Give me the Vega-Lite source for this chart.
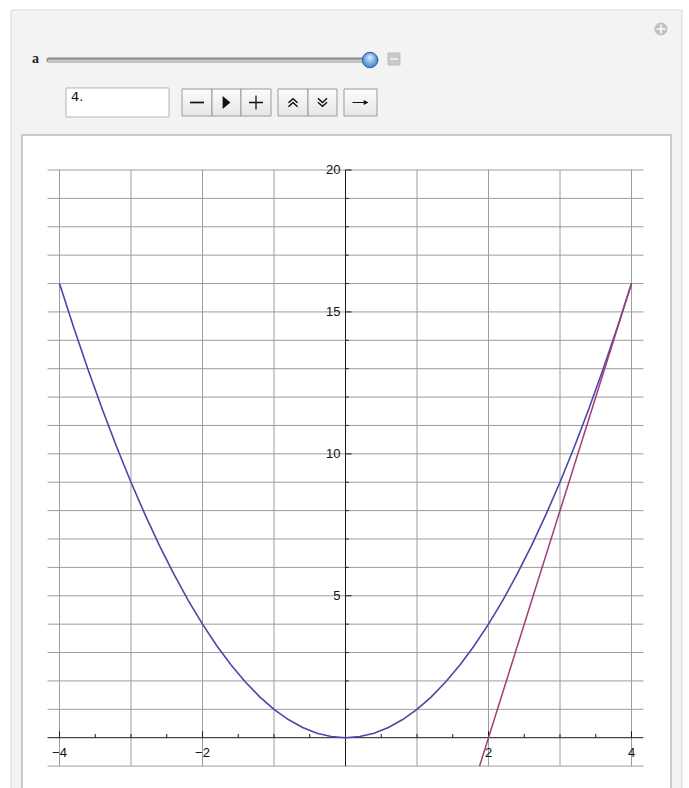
{
  "$schema": "https://vega.github.io/schema/vega-lite/v6.json",
  "width": 689,
  "height": 788,
  "autosize": {"type": "fit", "contains": "padding"},
  "padding": 0,
  "background": "white",
  "config": {
    "view": {"stroke": null},
    "axis": {"disable": true},
    "text": {"font": "Liberation Sans"}
  },
  "layer": [
    {
      "description": "outer control panel",
      "data": {"values": [{}]},
      "mark": {"type": "rect", "fill": "#f3f3f3", "stroke": "#d8d8d8", "strokeWidth": 1, "clip": true},
      "encoding": {
        "x": {"datum": -4.678, "type": "quantitative", "scale": {"domain": [-4.8322, 4.8042], "nice": false, "zero": false}},
        "x2": {"datum": 4.706},
        "y": {"datum": 25.637, "type": "quantitative", "scale": {"domain": [-1.772, 25.989], "nice": false, "zero": false}},
        "y2": {"datum": -2.195}
      }
    },
    {
      "description": "white frame around the plot",
      "data": {"values": [{}]},
      "mark": {"type": "rect", "fill": "white", "stroke": "#cacaca", "strokeWidth": 2, "clip": true},
      "encoding": {
        "x": {"datum": -4.5245}, "x2": {"datum": 4.5524},
        "y": {"datum": 21.233}, "y2": {"datum": -2.195}
      }
    },
    {
      "description": "add-bookmark button, top right",
      "data": {"values": [{}]},
      "mark": {"type": "point", "shape": "circle", "filled": true, "fill": "#c2c2c2", "stroke": null, "size": 170, "opacity": 1},
      "encoding": {"x": {"datum": 4.4126}, "y": {"datum": 24.967}}
    },
    {
      "data": {"values": [{}]},
      "mark": {"type": "point", "filled": true, "fill": "white", "stroke": null, "opacity": 1, "size": 81,
        "shape": "M -1 -0.17 L -0.17 -0.17 L -0.17 -1 L 0.17 -1 L 0.17 -0.17 L 1 -0.17 L 1 0.17 L 0.17 0.17 L 0.17 1 L -0.17 1 L -0.17 0.17 L -1 0.17 Z"},
      "encoding": {"x": {"datum": 4.4126}, "y": {"datum": 24.967}}
    },
    {
      "description": "slider label",
      "data": {"values": [{"name": "a"}]},
      "mark": {"type": "text", "font": "Liberation Serif", "fontSize": 14, "fontWeight": "bold", "align": "left", "baseline": "alphabetic", "color": "#222"},
      "encoding": {"x": {"datum": -4.3846}, "y": {"datum": 23.77}, "text": {"field": "name"}}
    },
    {
      "description": "slider track",
      "data": {"values": [{}]},
      "mark": {"type": "rule", "stroke": "#8a8a8a", "strokeWidth": 5, "strokeCap": "round"},
      "encoding": {"x": {"datum": -4.1469}, "x2": {"datum": 0.4265}, "y": {"datum": 23.875}}
    },
    {
      "data": {"values": [{}]},
      "mark": {"type": "rule", "stroke": "#c6c6c6", "strokeWidth": 2.5, "strokeCap": "round"},
      "encoding": {"x": {"datum": -4.1469}, "x2": {"datum": 0.4265}, "y": {"datum": 23.85}}
    },
    {
      "description": "slider thumb at a = 4",
      "data": {"values": [{}]},
      "mark": {"type": "point", "shape": "circle", "filled": true, "opacity": 1, "size": 240, "stroke": "#2f5f9e", "strokeWidth": 1,
        "fill": {"gradient": "radial", "x1": 0.5, "y1": 0.3, "r1": 0, "x2": 0.5, "y2": 0.5, "r2": 0.6,
          "stops": [{"offset": 0, "color": "#e4f0ff"}, {"offset": 0.5, "color": "#7fb2ee"}, {"offset": 1, "color": "#2f6fc6"}]}},
      "encoding": {"x": {"datum": 0.3426}, "y": {"datum": 23.875}}
    },
    {
      "description": "collapse box beside the slider",
      "data": {"values": [{}]},
      "mark": {"type": "rect", "fill": "#c9c9c9", "stroke": "#bdbdbd", "strokeWidth": 1},
      "encoding": {"x": {"datum": 0.5944}, "x2": {"datum": 0.7622}, "y": {"datum": 24.122}, "y2": {"datum": 23.699}}
    },
    {
      "data": {"values": [{}]},
      "mark": {"type": "point", "filled": true, "fill": "white", "stroke": null, "opacity": 1, "size": 64,
        "shape": "M -1 -0.16 L 1 -0.16 L 1 0.16 L -1 0.16 Z"},
      "encoding": {"x": {"datum": 0.6783}, "y": {"datum": 23.91}}
    },
    {
      "description": "input field showing the value of a",
      "data": {"values": [{}]},
      "mark": {"type": "rect", "fill": "white", "stroke": "#b4b4b4", "strokeWidth": 1},
      "encoding": {"x": {"datum": -3.9091}, "x2": {"datum": -2.4685}, "y": {"datum": 22.889}, "y2": {"datum": 21.867}}
    },
    {
      "data": {"values": [{"value": "4."}]},
      "mark": {"type": "text", "font": "DejaVu Sans", "fontSize": 13, "align": "left", "baseline": "alphabetic", "color": "#111"},
      "encoding": {"x": {"datum": -3.8392}, "y": {"datum": 22.42}, "text": {"field": "value"}}
    },
    {
      "description": "animator buttons",
      "data": {"values": [{}]},
      "mark": {"type": "rect", "stroke": "#9a9a9a", "strokeWidth": 1,
        "fill": {"gradient": "linear", "x1": 0, "y1": 0, "x2": 0, "y2": 1, "stops": [{"offset": 0, "color": "#fcfcfc"}, {"offset": 1, "color": "#e6e6e6"}]}},
      "encoding": {"x": {"datum": -2.2867}, "x2": {"datum": -1.8672}, "y": {"datum": 22.854}, "y2": {"datum": 21.902}}
    },
    {
      "data": {"values": [{}]},
      "mark": {"type": "rect", "stroke": "#9a9a9a", "strokeWidth": 1,
        "fill": {"gradient": "linear", "x1": 0, "y1": 0, "x2": 0, "y2": 1, "stops": [{"offset": 0, "color": "#fcfcfc"}, {"offset": 1, "color": "#e6e6e6"}]}},
      "encoding": {"x": {"datum": -1.8672}, "x2": {"datum": -1.4616}, "y": {"datum": 22.854}, "y2": {"datum": 21.902}}
    },
    {
      "data": {"values": [{}]},
      "mark": {"type": "rect", "stroke": "#9a9a9a", "strokeWidth": 1,
        "fill": {"gradient": "linear", "x1": 0, "y1": 0, "x2": 0, "y2": 1, "stops": [{"offset": 0, "color": "#fcfcfc"}, {"offset": 1, "color": "#e6e6e6"}]}},
      "encoding": {"x": {"datum": -1.4616}, "x2": {"datum": -1.042}, "y": {"datum": 22.854}, "y2": {"datum": 21.902}}
    },
    {
      "data": {"values": [{}]},
      "mark": {"type": "rect", "stroke": "#9a9a9a", "strokeWidth": 1,
        "fill": {"gradient": "linear", "x1": 0, "y1": 0, "x2": 0, "y2": 1, "stops": [{"offset": 0, "color": "#fcfcfc"}, {"offset": 1, "color": "#e6e6e6"}]}},
      "encoding": {"x": {"datum": -0.9441}, "x2": {"datum": -0.5245}, "y": {"datum": 22.854}, "y2": {"datum": 21.902}}
    },
    {
      "data": {"values": [{}]},
      "mark": {"type": "rect", "stroke": "#9a9a9a", "strokeWidth": 1,
        "fill": {"gradient": "linear", "x1": 0, "y1": 0, "x2": 0, "y2": 1, "stops": [{"offset": 0, "color": "#fcfcfc"}, {"offset": 1, "color": "#e6e6e6"}]}},
      "encoding": {"x": {"datum": -0.5245}, "x2": {"datum": -0.1189}, "y": {"datum": 22.854}, "y2": {"datum": 21.902}}
    },
    {
      "data": {"values": [{}]},
      "mark": {"type": "rect", "stroke": "#9a9a9a", "strokeWidth": 1,
        "fill": {"gradient": "linear", "x1": 0, "y1": 0, "x2": 0, "y2": 1, "stops": [{"offset": 0, "color": "#fcfcfc"}, {"offset": 1, "color": "#e6e6e6"}]}},
      "encoding": {"x": {"datum": -0.021}, "x2": {"datum": 0.4405}, "y": {"datum": 22.854}, "y2": {"datum": 21.902}}
    },
    {
      "description": "step back glyph",
      "data": {"values": [{}]},
      "mark": {"type": "point", "filled": true, "fill": "#111", "stroke": null, "opacity": 1, "size": 196,
        "shape": "M -1 -0.12 L 1 -0.12 L 1 0.12 L -1 0.12 Z"},
      "encoding": {"x": {"datum": -2.077}, "y": {"datum": 22.378}}
    },
    {
      "description": "play glyph",
      "data": {"values": [{}]},
      "mark": {"type": "point", "filled": true, "fill": "#111", "stroke": null, "opacity": 1, "size": 169,
        "shape": "M -0.6 -1 L 0.6 0 L -0.6 1 Z"},
      "encoding": {"x": {"datum": -1.6644}, "y": {"datum": 22.378}}
    },
    {
      "description": "step forward glyph",
      "data": {"values": [{}]},
      "mark": {"type": "point", "filled": true, "fill": "#111", "stroke": null, "opacity": 1, "size": 196,
        "shape": "M -1 -0.09 L -0.09 -0.09 L -0.09 -1 L 0.09 -1 L 0.09 -0.09 L 1 -0.09 L 1 0.09 L 0.09 0.09 L 0.09 1 L -0.09 1 L -0.09 0.09 L -1 0.09 Z"},
      "encoding": {"x": {"datum": -1.2518}, "y": {"datum": 22.378}}
    },
    {
      "description": "faster glyph",
      "data": {"values": [{}]},
      "mark": {"type": "point", "filled": false, "stroke": "#111", "strokeWidth": 1.4, "opacity": 1, "size": 196,
        "shape": "M -0.65 0.05 L 0 -0.55 L 0.65 0.05 M -0.65 0.6 L 0 0 L 0.65 0.6"},
      "encoding": {"x": {"datum": -0.7343}, "y": {"datum": 22.378}}
    },
    {
      "description": "slower glyph",
      "data": {"values": [{}]},
      "mark": {"type": "point", "filled": false, "stroke": "#111", "strokeWidth": 1.4, "opacity": 1, "size": 196,
        "shape": "M -0.65 -0.6 L 0 0 L 0.65 -0.6 M -0.65 -0.05 L 0 0.55 L 0.65 -0.05"},
      "encoding": {"x": {"datum": -0.3217}, "y": {"datum": 22.378}}
    },
    {
      "description": "direction glyph",
      "data": {"values": [{}]},
      "mark": {"type": "point", "filled": true, "fill": "#111", "stroke": null, "opacity": 1, "size": 256,
        "shape": "M -1 -0.07 L 0.4 -0.07 L 0.4 -0.3 L 1 0 L 0.4 0.3 L 0.4 0.07 L -1 0.07 Z"},
      "encoding": {"x": {"datum": 0.2098}, "y": {"datum": 22.378}}
    },
    {
      "description": "horizontal grid lines",
      "data": {"values": [{"y": -1}, {"y": 1}, {"y": 2}, {"y": 3}, {"y": 4}, {"y": 5}, {"y": 6}, {"y": 7}, {"y": 8}, {"y": 9}, {"y": 10}, {"y": 11}, {"y": 12}, {"y": 13}, {"y": 14}, {"y": 15}, {"y": 16}, {"y": 17}, {"y": 18}, {"y": 19}, {"y": 20}]},
      "mark": {"type": "rule", "stroke": "#9c9c9c", "strokeWidth": 1},
      "encoding": {"x": {"datum": -4.167}, "x2": {"datum": 4.167}, "y": {"field": "y", "type": "quantitative"}}
    },
    {
      "description": "vertical grid lines",
      "data": {"values": [{"x": -4}, {"x": -3}, {"x": -2}, {"x": -1}, {"x": 1}, {"x": 2}, {"x": 3}, {"x": 4}]},
      "mark": {"type": "rule", "stroke": "#9c9c9c", "strokeWidth": 1},
      "encoding": {"x": {"field": "x", "type": "quantitative"}, "y": {"datum": -1}, "y2": {"datum": 20}}
    },
    {
      "description": "x axis line",
      "data": {"values": [{}]},
      "mark": {"type": "rule", "stroke": "#1a1a1a", "strokeWidth": 1},
      "encoding": {"x": {"datum": -4.167}, "x2": {"datum": 4.167}, "y": {"datum": 0}}
    },
    {
      "description": "y axis line",
      "data": {"values": [{}]},
      "mark": {"type": "rule", "stroke": "#1a1a1a", "strokeWidth": 1},
      "encoding": {"x": {"datum": 0}, "y": {"datum": -1}, "y2": {"datum": 20}}
    },
    {
      "description": "x axis major ticks",
      "data": {"values": [{"v": -4}, {"v": -2}, {"v": 2}, {"v": 4}]},
      "mark": {"type": "rule", "stroke": "#1a1a1a", "strokeWidth": 1},
      "encoding": {"x": {"field": "v", "type": "quantitative"}, "y": {"datum": 0}, "y2": {"datum": 0.23}}
    },
    {
      "description": "x axis minor ticks",
      "data": {"values": [{"v": -3.5}, {"v": -3}, {"v": -2.5}, {"v": -1.5}, {"v": -1}, {"v": -0.5}, {"v": 0.5}, {"v": 1}, {"v": 1.5}, {"v": 2.5}, {"v": 3}, {"v": 3.5}]},
      "mark": {"type": "rule", "stroke": "#1a1a1a", "strokeWidth": 1},
      "encoding": {"x": {"field": "v", "type": "quantitative"}, "y": {"datum": 0}, "y2": {"datum": 0.13}}
    },
    {
      "description": "y axis major ticks",
      "data": {"values": [{"v": 5}, {"v": 10}, {"v": 15}, {"v": 20}]},
      "mark": {"type": "rule", "stroke": "#1a1a1a", "strokeWidth": 1},
      "encoding": {"y": {"field": "v", "type": "quantitative"}, "x": {"datum": 0}, "x2": {"datum": 0.085}}
    },
    {
      "description": "y axis minor ticks",
      "data": {"values": [{"v": 1}, {"v": 2}, {"v": 3}, {"v": 4}, {"v": 6}, {"v": 7}, {"v": 8}, {"v": 9}, {"v": 11}, {"v": 12}, {"v": 13}, {"v": 14}, {"v": 16}, {"v": 17}, {"v": 18}, {"v": 19}]},
      "mark": {"type": "rule", "stroke": "#1a1a1a", "strokeWidth": 1},
      "encoding": {"y": {"field": "v", "type": "quantitative"}, "x": {"datum": 0}, "x2": {"datum": 0.045}}
    },
    {
      "description": "x tick labels",
      "data": {"values": [{"v": -4}, {"v": -2}, {"v": 2}, {"v": 4}]},
      "mark": {"type": "text", "fontSize": 13, "align": "center", "baseline": "alphabetic", "dy": 19, "color": "#111"},
      "encoding": {"x": {"field": "v", "type": "quantitative"}, "y": {"datum": 0}, "text": {"field": "v", "type": "quantitative", "format": "d"}}
    },
    {
      "description": "y tick labels",
      "data": {"values": [{"v": 5}, {"v": 10}, {"v": 15}, {"v": 20}]},
      "mark": {"type": "text", "fontSize": 13, "align": "right", "baseline": "middle", "dx": -5, "color": "#111"},
      "encoding": {"y": {"field": "v", "type": "quantitative"}, "x": {"datum": 0}, "text": {"field": "v", "type": "quantitative", "format": "d"}}
    },
    {
      "description": "f(x) = x^2",
      "data": {"values": [
        {"x": -4, "y": 16}, {"x": -3.8, "y": 14.44}, {"x": -3.6, "y": 12.96}, {"x": -3.4, "y": 11.56}, {"x": -3.2, "y": 10.24},
        {"x": -3, "y": 9}, {"x": -2.8, "y": 7.84}, {"x": -2.6, "y": 6.76}, {"x": -2.4, "y": 5.76}, {"x": -2.2, "y": 4.84},
        {"x": -2, "y": 4}, {"x": -1.8, "y": 3.24}, {"x": -1.6, "y": 2.56}, {"x": -1.4, "y": 1.96}, {"x": -1.2, "y": 1.44},
        {"x": -1, "y": 1}, {"x": -0.8, "y": 0.64}, {"x": -0.6, "y": 0.36}, {"x": -0.4, "y": 0.16}, {"x": -0.2, "y": 0.04},
        {"x": 0, "y": 0},
        {"x": 0.2, "y": 0.04}, {"x": 0.4, "y": 0.16}, {"x": 0.6, "y": 0.36}, {"x": 0.8, "y": 0.64}, {"x": 1, "y": 1},
        {"x": 1.2, "y": 1.44}, {"x": 1.4, "y": 1.96}, {"x": 1.6, "y": 2.56}, {"x": 1.8, "y": 3.24}, {"x": 2, "y": 4},
        {"x": 2.2, "y": 4.84}, {"x": 2.4, "y": 5.76}, {"x": 2.6, "y": 6.76}, {"x": 2.8, "y": 7.84}, {"x": 3, "y": 9},
        {"x": 3.2, "y": 10.24}, {"x": 3.4, "y": 11.56}, {"x": 3.6, "y": 12.96}, {"x": 3.8, "y": 14.44}, {"x": 4, "y": 16}
      ]},
      "mark": {"type": "line", "stroke": "#4848a8", "strokeWidth": 1.6},
      "encoding": {"x": {"field": "x", "type": "quantitative"}, "y": {"field": "y", "type": "quantitative"}}
    },
    {
      "description": "tangent line at x = a: y = 8x - 16",
      "data": {"values": [{"x": 1.875, "y": -1}, {"x": 4, "y": 16}]},
      "mark": {"type": "line", "stroke": "#9e3f78", "strokeWidth": 1.5},
      "encoding": {"x": {"field": "x", "type": "quantitative"}, "y": {"field": "y", "type": "quantitative"}}
    }
  ]
}
